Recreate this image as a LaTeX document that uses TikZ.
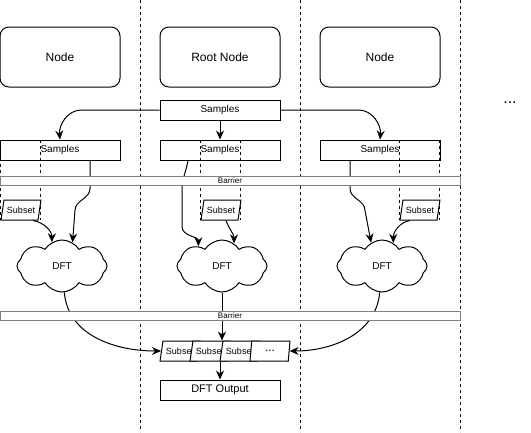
\documentclass[tikz,border=0pt]{standalone}
\usepackage{fontspec}
\setmainfont{Liberation Sans}
\usetikzlibrary{shapes.geometric, shapes.symbols, arrows.meta, calc}

\begin{document}
\begin{tikzpicture}[
  x=1pt, y=1pt, line width=1pt,
  pnode/.style={rectangle, draw, rounded corners=9pt, minimum width=120pt,
                minimum height=60pt, font=\fontsize{12}{14}\selectfont},
  sbox/.style={rectangle, draw, fill=white, minimum width=120pt, minimum height=20pt,
               inner sep=0pt, font=\fontsize{10}{12}\selectfont},
  bar/.style={rectangle, draw=black!50, fill=white, minimum width=460pt,
              minimum height=9pt, inner sep=0pt, font=\fontsize{8}{9}\selectfont},
  subbox/.style={trapezium, trapezium left angle=70, trapezium right angle=110,
                 trapezium stretches=true, draw, fill=white, minimum width=40pt,
                 minimum height=20pt, inner sep=0pt, font=\fontsize{9}{10}\selectfont},
  dft/.style={cloud, cloud puffs=8, cloud puff arc=115, draw, fill=white, minimum width=90pt,
              minimum height=52pt, inner sep=0pt, font=\fontsize{10}{12}\selectfont},
  arrow/.style={-{Stealth[length=9pt, width=8pt, inset=3pt]}},
  lane/.style={dash pattern=on 3pt off 3pt}
]
\useasboundingbox (0,0) rectangle (531,-432);

%% ---- Lane separators ----
\draw[lane] (140.5,0) -- (140.5,-432);
\draw[lane] (300.5,0) -- (300.5,-432);
\draw[lane] (460.5,0) -- (460.5,-432);

%% ---- Nodes (top row) ----
\node[pnode] at (60,-57)  (nodel) {Node};
\node[pnode] at (220,-57) (root)  {Root Node};
\node[pnode] at (380,-57) (noder) {Node};
\node[font=\fontsize{16}{18}\selectfont] at (510,-103) (more) {...};

%% ---- Samples ----
\node[sbox] at (220,-110) (samp)  {Samples};
\node[sbox] at (60,-150)  (sampl) {Samples};
\node[sbox] at (220,-150) (sampm) {Samples};
\node[sbox] at (380,-150) (sampr) {Samples};

%% ---- Subset lanes ----
\foreach \x in {0.5, 40.5, 200.5, 240.5, 399.5, 439.5}
  \draw[lane] (\x,-140) -- (\x,-220);

%% ---- Subsets and DFT ----
\node[subbox] at (21,-210)  (subl) {Subset};
\node[subbox] at (221,-210) (subm) {Subset};
\node[subbox] at (420,-210) (subr) {Subset};

\node[dft] at (62,-266)  (dftl) {DFT};
\node[dft] at (222,-266) (dftm) {DFT};
\node[dft] at (382,-266) (dftr) {DFT};

%% ---- Arrows ----
\draw[arrow] (samp.west) -- ++(-78,0) to[out=180,in=95] (sampl.north);
\draw[arrow] (samp.east) -- ++(78,0) to[out=0,in=85] (sampr.north);
\draw[arrow] (samp.south) -- (sampm.north);

\draw[arrow] ([xshift=30pt]sampl.south) -- ++(0,-28) to[out=-90,in=90] ++(-15,-22) -- (dftl.66);
\draw[arrow] ([xshift=12pt]subl.south) to[out=-10,in=90] (dftl.113);
\draw[arrow] ([xshift=-32pt]sampm.south) to[out=-100,in=90] ++(-6,-30) -- ++(0,-36)
             to[out=-90,in=90] (dftm.140);
\draw[arrow] ([xshift=5pt]subm.south) to[out=-70,in=90] (dftm.62);
\draw[arrow] ([xshift=-30pt]sampr.south) -- ++(0,-28) to[out=-90,in=90] ++(15,-22) -- (dftr.115);
\draw[arrow] ([xshift=-10pt]subr.south) to[out=190,in=90] (dftr.64);

%% ---- Barriers ----
\node[bar] at (230,-180.5) (barA) {Barrier};

%% ---- Gather ----
\node[subbox] at (180,-351) (arr1)    {Subset};
\node[subbox] at (210,-351) (arr2)    {Subset};
\node[subbox] at (240,-351) (arr3)    {Subset};
\node[subbox, font=\fontsize{12}{14}\selectfont] at (270,-351) (arrdots) {...};
\node[sbox, font=\fontsize{11}{13}\selectfont] at (220,-390) (dftout) {DFT Output};

\draw[arrow] (dftl.-85) to[out=-85,in=180] (arr1.west);
\draw[arrow] (dftm.south) -- (dftm.south |- arr2.north);
\draw[arrow] (dftr.-95) to[out=-95,in=0] (arrdots.east);
\draw[arrow] (arr2.south -| dftout.north) -- (dftout.north);

\node[bar] at (230,-315.5) (barB) {Barrier};
\end{tikzpicture}
\end{document}
